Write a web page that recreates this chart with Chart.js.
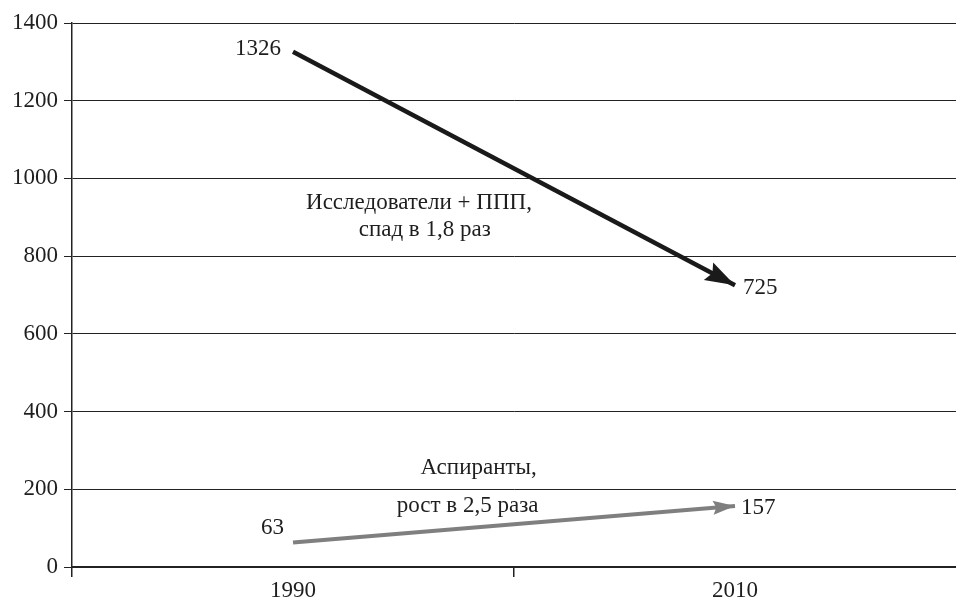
<!DOCTYPE html>
<html><head><meta charset="utf-8">
<script src="https://cdn.jsdelivr.net/npm/chart.js@4.4.0/dist/chart.umd.min.js"></script>
<style>html,body{margin:0;padding:0;background:#fff;overflow:hidden}#wrap{width:956px;height:602px}</style>
</head><body><div id="wrap"><canvas id="c" width="956" height="602"></canvas></div>
<script>
const categories = ['1990', '2010'];
const researchers = [1326, 725];
const postgrads = [63, 157];
const yTicks = [0, 200, 400, 600, 800, 1000, 1200, 1400];
const researchersNote = ['Исследователи + ППП,', 'спад в 1,8 раз'];
const postgradsNote = ['Аспиранты,', 'рост в 2,5 раза'];

const FONT = "'Liberation Serif', 'Times New Roman', serif";
const FS = 23;

const arrowPlugin = {
  id: 'arrows',
  afterDatasetsDraw(chart) {
    const ctx = chart.ctx;
    chart.data.datasets.forEach((ds, i) => {
      const pts = chart.getDatasetMeta(i).data;
      const a = pts[0], b = pts[1];
      const ang = Math.atan2(b.y - a.y, b.x - a.x);
      const L = ds.headLen, W = ds.headWid;
      ctx.save();
      ctx.fillStyle = ds.borderColor;
      ctx.translate(b.x, b.y);
      ctx.rotate(ang);
      ctx.beginPath();
      ctx.moveTo(0, 0);
      ctx.lineTo(-L, -W / 2);
      ctx.lineTo(-L * 0.85, 0);
      ctx.lineTo(-L, W / 2);
      ctx.closePath();
      ctx.fill();
      ctx.restore();
    });
  }
};

const labelPlugin = {
  id: 'labels',
  afterDraw(chart) {
    const ctx = chart.ctx;
    const xs = chart.scales.x, ys = chart.scales.y;
    ctx.save();
    ctx.font = FS + 'px ' + FONT;
    ctx.fillStyle = '#1e1e1e';
    ctx.textBaseline = 'middle';
    const r = chart.getDatasetMeta(0).data, p = chart.getDatasetMeta(1).data;
    ctx.textAlign = 'right';
    ctx.fillText(String(researchers[0]), r[0].x - 12, r[0].y - 3);
    ctx.fillText(String(postgrads[0]), p[0].x - 9, p[0].y - 15);
    ctx.textAlign = 'left';
    ctx.fillText(String(researchers[1]), r[1].x + 8, r[1].y + 3);
    ctx.fillText(String(postgrads[1]), p[1].x + 6, p[1].y + 2);
    ctx.textAlign = 'center';
    ctx.fillText(researchersNote[0], xs.getPixelForValue(0.285), ys.getPixelForValue(938));
    ctx.fillText(researchersNote[1], xs.getPixelForValue(0.298), ys.getPixelForValue(868));
    ctx.fillText(postgradsNote[0], xs.getPixelForValue(0.42), ys.getPixelForValue(254));
    ctx.fillText(postgradsNote[1], xs.getPixelForValue(0.395), ys.getPixelForValue(158));
    ctx.restore();
  }
};

new Chart(document.getElementById('c'), {
  type: 'line',
  data: {
    labels: categories,
    datasets: [
      { data: researchers, borderColor: '#1a1a1a', borderWidth: 4.5, pointRadius: 0, headLen: 30, headWid: 20, borderCapStyle: 'butt' },
      { data: postgrads, borderColor: '#7f7f7f', borderWidth: 4, pointRadius: 0, headLen: 22, headWid: 14, borderCapStyle: 'butt' }
    ]
  },
  options: {
    responsive: false,
    animation: false,
    layout: { padding: { top: 23, right: 0, bottom: 0, left: 0 } },
    plugins: { legend: { display: false }, tooltip: { enabled: false } },
    scales: {
      x: {
        offset: true,
        afterFit(s) { s.height = 35; },
        border: { color: '#222', width: 2 },
        grid: { offset: true, drawOnChartArea: false, drawTicks: true, tickLength: 10, lineWidth: 1.5,
                color: c => (c.type === 'tick' ? '#222' : 'rgba(0,0,0,0)') },
        ticks: { font: { family: FONT, size: FS }, color: '#1e1e1e', padding: 0 }
      },
      y: {
        min: 0, max: 1400,
        afterBuildTicks(s) { s.ticks = yTicks.map(v => ({ value: v })); },
        afterFit(s) { s.width = 72; },
        border: { color: '#222', width: 1.5 },
        grid: { color: '#222', lineWidth: 1, tickLength: 8 },
        ticks: { font: { family: FONT, size: FS }, color: '#1e1e1e', padding: 6, callback: v => String(v) }
      }
    }
  },
  plugins: [arrowPlugin, labelPlugin]
});
</script></body></html>
